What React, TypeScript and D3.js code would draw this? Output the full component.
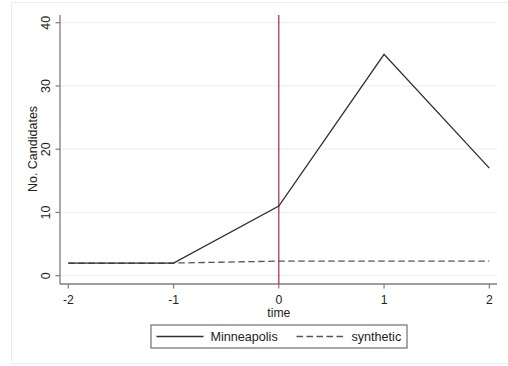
import * as d3 from "d3";

// chart values
const times = [-2, -1, 0, 1, 2];
const minneapolis = [2, 2, 11, 35, 17];
const synthetic = [2.0, 2.0, 2.3, 2.3, 2.3];
const yTicks = [0, 10, 20, 30, 40];
const xTicks = [-2, -1, 0, 1, 2];
const treatTime = 0;

const width = 508;
const height = 366;
const font = "'Liberation Sans', Arial, sans-serif";

export default function App() {
    // plot region
    const plotLeft = 60;
    const plotRight = 497;
    const plotTop = 15;
    const plotBottom = 284;

    const x = d3.scaleLinear().domain([-2, 2]).range([68.3, 489.3]);
    const y = d3.scaleLinear().domain([0, 40]).range([275.7, 22.7]);

    const line = d3.line<number>()
        .x((d, i) => x(times[i]))
        .y((d) => y(d));

    return (
        <svg width={width} height={height} viewBox={`0 0 ${width} ${height}`}
            style={{ position: "absolute", left: 0, top: 0, display: "block" }}
            fontFamily={font}>
            <rect x={0} y={0} width={width} height={height} fill="#ffffff" />
            {/* graph region frame */}
            <rect x={11.5} y={2.5} width={width} height={361} fill="#ffffff" stroke="#e6eef0" strokeWidth={1} />

            {/* gridlines */}
            <g stroke="#eaf2f3" strokeWidth={1.2}>
                {yTicks.map((t) => (
                    <line key={t} x1={plotLeft} x2={plotRight} y1={y(t)} y2={y(t)} />
                ))}
            </g>

            {/* y axis */}
            <line x1={plotLeft} x2={plotLeft} y1={plotTop} y2={plotBottom} stroke="#7d7d7d" strokeWidth={1.3} />
            {yTicks.map((t) => (
                <g key={t}>
                    <line x1={plotLeft - 4.5} x2={plotLeft} y1={y(t)} y2={y(t)} stroke="#7d7d7d" strokeWidth={1.2} />
                    <text transform={`translate(49.5,${y(t)}) rotate(-90)`} textAnchor="middle"
                        fontSize={12.5} fill="#222">{t}</text>
                </g>
            ))}
            <text transform={`translate(36.5,149) rotate(-90)`} textAnchor="middle"
                fontSize={12.5} fill="#222">No. Candidates</text>

            {/* x axis */}
            <line x1={plotLeft} x2={plotRight} y1={plotBottom} y2={plotBottom} stroke="#7d7d7d" strokeWidth={1.3} />
            {xTicks.map((t) => (
                <g key={t}>
                    <line x1={x(t)} x2={x(t)} y1={plotBottom} y2={plotBottom + 4.5} stroke="#7d7d7d" strokeWidth={1.2} />
                    <text x={x(t)} y={304} textAnchor="middle" fontSize={12.2} fill="#222">{t}</text>
                </g>
            ))}
            <text x={x(0)} y={317.3} textAnchor="middle" fontSize={12.2} fill="#222">time</text>

            {/* treatment line */}
            <line x1={x(treatTime)} x2={x(treatTime)} y1={plotTop} y2={plotBottom}
                stroke="#ad2550" strokeWidth={1.2} />

            {/* series */}
            <path d={line(synthetic) ?? ""} fill="none" stroke="#555" strokeWidth={1.3} strokeDasharray="6.5,3.5" />
            <path d={line(minneapolis) ?? ""} fill="none" stroke="#2e2e2e" strokeWidth={1.3} />

            {/* legend */}
            <rect x={151} y={325} width={256} height={23} fill="#fff" stroke="#6f6f6f" strokeWidth={1.2} />
            <line x1={156.5} x2={203.5} y1={336.5} y2={336.5} stroke="#2e2e2e" strokeWidth={1.3} />
            <text x={210.5} y={341} fontSize={12.6} fill="#222">Minneapolis</text>
            <line x1={296.5} x2={345} y1={336.5} y2={336.5} stroke="#555" strokeWidth={1.3} strokeDasharray="6.5,3.5" />
            <text x={351.5} y={341} fontSize={12.6} fill="#222">synthetic</text>
        </svg>
    );
}
